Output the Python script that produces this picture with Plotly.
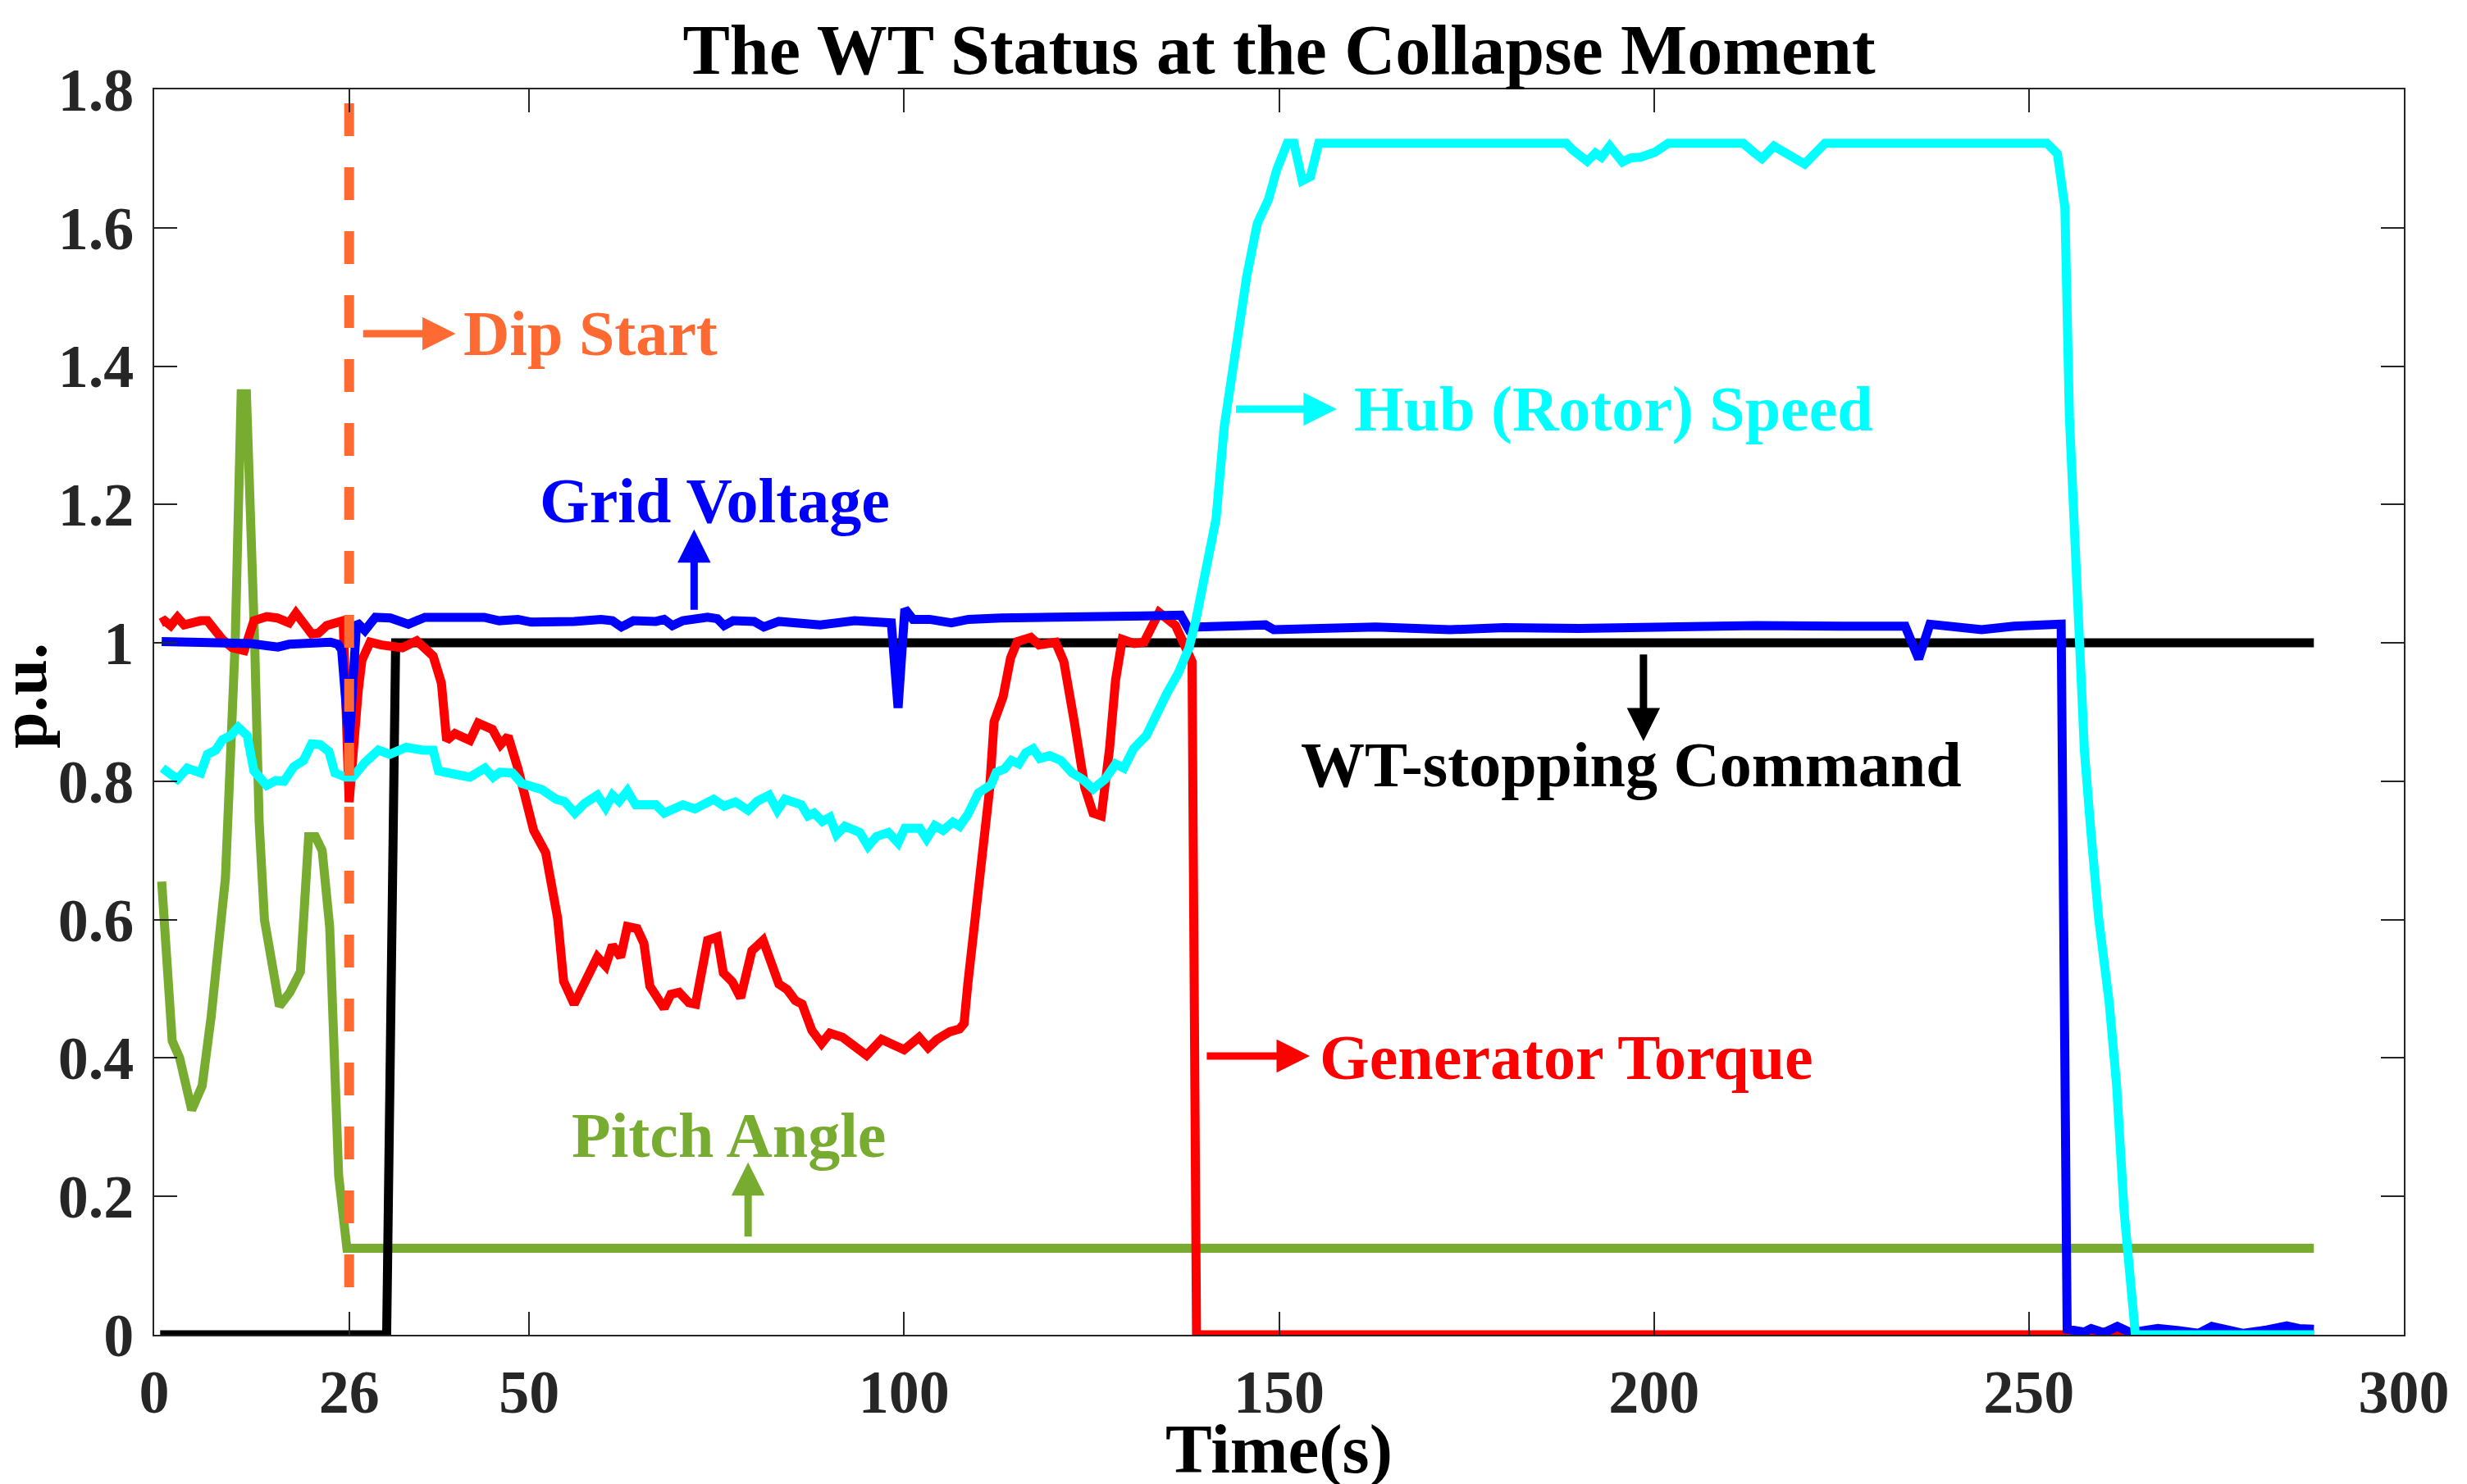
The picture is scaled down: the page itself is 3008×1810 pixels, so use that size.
import plotly.graph_objects as go

# ---------------- data ----------------
pitch_t = [1.0, 2.4, 3.4, 5.0, 6.4, 7.6, 9.5, 10.8, 11.6, 12.3, 13.4, 14.0, 14.7, 15.6, 16.7,
           18.1, 19.5, 20.6, 21.5, 22.4, 23.4, 24.6, 25.7, 288.0]
pitch_v = [0.655, 0.425, 0.40, 0.325, 0.36, 0.46, 0.66, 1.0, 1.36, 1.36, 1.0, 0.74, 0.60, 0.545, 0.475,
           0.495, 0.525, 0.72, 0.72, 0.70, 0.59, 0.23, 0.125, 0.125]

stop_t = [0.8, 31.0, 32.2, 288.0]
stop_v = [0.0, 0.0, 1.0, 1.0]

torque_t = [0.9, 1.4, 2.2, 3.1, 4.0, 5.2, 6.2, 7.1, 8.0, 9.1, 10.4, 12.0, 13.3, 15.0, 16.4, 18.0, 18.9,
            21.0, 21.9, 23.0, 25.2, 26.0, 27.2, 27.7, 28.8, 30.3, 33.1, 35.0, 37.2, 38.3, 39.0, 40.1,
            42.1, 43.2, 45.1, 46.2, 47.2, 48.5, 50.6, 52.2, 53.8, 54.6, 56.0, 59.1, 60.2, 61.1, 62.2,
            63.1, 64.4, 65.3, 66.1, 68.0, 68.9, 70.0, 71.3, 72.2, 73.8, 75.1, 75.9, 77.1, 78.2, 79.7,
            81.2, 82.6, 83.3, 84.4, 85.5, 86.4, 87.7, 89.0, 90.1, 91.8, 93.5, 95.0, 97.0, 100.0, 102.0,
            103.2, 104.4, 106.1, 107.4, 108.0, 108.5, 109.9, 111.4, 112.0, 113.2, 114.2, 115.1, 116.9,
            118.0, 120.2, 121.3, 122.7, 124.1, 125.2, 126.3, 127.4, 128.2, 129.1, 130.7, 132.0, 133.2,
            134.0, 136.2, 137.7, 138.4, 139.0, 288.0]
torque_v = [1.029, 1.032, 1.025, 1.037, 1.026, 1.030, 1.032, 1.032, 1.02, 1.005, 0.993, 0.989, 1.032,
            1.038, 1.036, 1.029, 1.043, 1.013, 1.014, 1.025, 1.032, 0.77, 0.93, 0.975, 1.001, 0.997,
            0.993, 1.003, 0.981, 0.942, 0.859, 0.869, 0.859, 0.884, 0.875, 0.853, 0.865, 0.819, 0.729,
            0.697, 0.602, 0.511, 0.478, 0.546, 0.533, 0.563, 0.546, 0.590, 0.587, 0.566, 0.504, 0.472,
            0.492, 0.495, 0.48, 0.478, 0.570, 0.575, 0.523, 0.510, 0.487, 0.555, 0.570, 0.531, 0.507,
            0.499, 0.483, 0.478, 0.44, 0.421, 0.436, 0.43, 0.418, 0.404, 0.427, 0.412, 0.430, 0.415,
            0.427, 0.438, 0.442, 0.45, 0.507, 0.649, 0.788, 0.886, 0.922, 0.978, 1.002, 1.008, 0.997,
            1.001, 0.973, 0.886, 0.791, 0.754, 0.750, 0.847, 0.946, 1.005, 0.999, 1.001, 1.031, 1.044,
            1.025, 0.99, 0.973, 0.0, 0.0]

voltage_t = [1.0, 3.0, 5.0, 7.0, 9.0, 11.0, 13.0, 15.0, 16.5, 18.0, 20.0, 22.0, 23.5, 24.5, 25.0, 26.0,
             27.0, 28.1, 29.5, 31.5, 33.9, 36.1, 40.0, 44.0, 46.0, 48.5, 50.3, 53.0, 56.0, 59.6, 61.1,
             62.3, 63.9, 66.9, 68.0, 69.1, 70.5, 73.8, 75.1, 76.0, 77.2, 80.0, 81.3, 83.3, 86.0, 88.8,
             93.4, 97.8, 98.3, 99.2, 100.1, 101.2, 103.4, 106.3, 108.6, 112.9, 117.2, 122.0, 127.0,
             132.0, 136.9, 138.0, 139.1, 143.0, 148.2, 149.3, 155.0, 162.9, 172.8, 180.0, 190.0, 200.0,
             213.6, 225.0, 233.5, 235.3, 236.8, 243.7, 248.0, 254.3, 255.1, 257.4, 258.3, 260.0, 261.8,
             263.6, 265.5, 267.2, 270.0, 272.6, 274.4, 276.5, 278.6, 281.7, 284.4, 286.0, 288.0]
voltage_v = [1.002, 1.002, 1.001, 1.002, 1.000, 0.999, 0.999, 0.996, 0.994, 0.998, 0.999, 1.003, 1.001,
             0.998, 0.99, 0.855, 1.03, 1.018, 1.037, 1.036, 1.027, 1.037, 1.036, 1.037, 1.032, 1.034,
             1.030, 1.030, 1.031, 1.034, 1.032, 1.023, 1.032, 1.031, 1.034, 1.025, 1.032, 1.037, 1.035,
             1.025, 1.032, 1.031, 1.023, 1.031, 1.030, 1.026, 1.032, 1.031, 1.029, 0.906, 1.049, 1.034,
             1.034, 1.029, 1.034, 1.036, 1.036, 1.036, 1.038, 1.039, 1.040, 1.019, 1.023, 1.024, 1.026,
             1.019, 1.020, 1.023, 1.019, 1.022, 1.021, 1.023, 1.025, 1.024, 1.024, 0.977, 1.027, 1.019,
             1.024, 1.027, 0.008, 0.004, 0.009, 0.003, 0.012, 0.003, 0.007, 0.009, 0.006, 0.002, 0.012,
             0.006, 0.002, 0.007, 0.013, 0.009, 0.008]

speed_t = [1.1, 3.1, 4.4, 6.2, 7.1, 8.2, 9.1, 10.2, 11.2, 12.4, 13.3, 15.0, 16.2, 17.3, 18.6, 19.9, 21.0,
           22.1, 23.3, 24.1, 25.5, 26.5, 28.1, 29.9, 31.4, 33.6, 35.8, 37.2, 37.9, 40.1, 42.1, 44.1,
           45.2, 46.1, 47.8, 49.0, 51.7, 53.6, 54.7, 56.1, 57.4, 59.1, 60.2, 61.1, 62.0, 63.1, 64.2,
           66.9, 68.0, 70.5, 72.1, 74.6, 76.0, 77.5, 79.2, 80.4, 82.0, 83.1, 84.1, 86.3, 87.2, 88.0,
           89.1, 90.1, 91.0, 92.1, 94.1, 95.2, 96.3, 97.9, 99.2, 100.1, 102.1, 103.0, 104.1, 105.2,
           106.5, 107.4, 108.5, 109.9, 111.6, 112.3, 113.4, 114.3, 115.3, 116.2, 117.2, 118.1, 119.4,
           120.9, 122.4, 123.8, 125.2, 126.8, 128.2, 129.3, 130.6, 132.3, 133.3, 135.1, 136.6, 138.0,
           138.9, 139.9, 140.5, 141.6, 142.7, 144.3, 145.7, 147.1, 148.6, 149.7, 150.6, 151.1, 152.0,
           153.1, 154.2, 154.8, 155.3, 188.3, 189.1, 191.1, 192.2, 193.0, 194.1, 195.8, 196.9, 198.2,
           200.1, 201.9, 211.9, 213.3, 214.4, 216.0, 218.2, 220.1, 222.8, 252.4, 253.8, 254.8, 255.4,
           256.4, 257.4, 258.3, 259.3, 260.7, 261.7, 262.7, 263.5, 264.2, 288.0]
speed_v = [0.819, 0.803, 0.819, 0.812, 0.839, 0.845, 0.860, 0.866, 0.878, 0.866, 0.815, 0.794, 0.801,
           0.800, 0.821, 0.830, 0.854, 0.853, 0.843, 0.812, 0.806, 0.806, 0.827, 0.845, 0.839, 0.849,
           0.845, 0.845, 0.815, 0.812, 0.806, 0.819, 0.806, 0.813, 0.812, 0.797, 0.788, 0.774, 0.771,
           0.754, 0.768, 0.780, 0.762, 0.780, 0.771, 0.786, 0.766, 0.766, 0.754, 0.766, 0.760, 0.774,
           0.764, 0.770, 0.758, 0.771, 0.780, 0.758, 0.774, 0.766, 0.750, 0.754, 0.742, 0.748, 0.723,
           0.735, 0.726, 0.706, 0.720, 0.726, 0.711, 0.732, 0.732, 0.717, 0.736, 0.729, 0.741, 0.735,
           0.752, 0.783, 0.795, 0.813, 0.818, 0.830, 0.825, 0.841, 0.847, 0.833, 0.837, 0.830, 0.812,
           0.803, 0.789, 0.803, 0.825, 0.819, 0.847, 0.866, 0.890, 0.928, 0.957, 0.993, 1.032, 1.084,
           1.123, 1.179, 1.313, 1.431, 1.530, 1.606, 1.641, 1.684, 1.708, 1.722, 1.722, 1.668, 1.674,
           1.708, 1.722, 1.722, 1.713, 1.696, 1.708, 1.702, 1.718, 1.695, 1.701, 1.702, 1.709, 1.722,
           1.722, 1.709, 1.700, 1.718, 1.705, 1.692, 1.722, 1.722, 1.707, 1.629, 1.327, 1.085, 0.844,
           0.723, 0.602, 0.481, 0.360, 0.178, 0.070, 0.0, 0.0]

dip_time = 26
dip_span = [1.78, 0.057]

x_tickvals = [0, 26, 50, 100, 150, 200, 250, 300]
x_ticktext = ["0", "26", "50", "100", "150", "200", "250", "300"]
y_tickvals = [0, 0.2, 0.4, 0.6, 0.8, 1.0, 1.2, 1.4, 1.6, 1.8]
y_ticktext = ["0", "0.2", "0.4", "0.6", "0.8", "1", "1.2", "1.4", "1.6", "1.8"]

# ---------------- figure ----------------
FONT = "Liberation Serif"
AX = "#262626"
C_PITCH, C_STOP, C_TORQUE, C_VOLT, C_SPEED, C_DIP = "#77AC30", "#000000", "#FF0000", "#0000FF", "#00FFFF", "#FF6A33"
LW = 11

fig = go.Figure()
fig.add_trace(go.Scatter(x=pitch_t, y=pitch_v, mode="lines", name="Pitch Angle",
                         line=dict(color=C_PITCH, width=LW)))
fig.add_trace(go.Scatter(x=stop_t, y=stop_v, mode="lines", name="WT-stopping Command",
                         line=dict(color=C_STOP, width=LW)))
fig.add_trace(go.Scatter(x=torque_t, y=torque_v, mode="lines", name="Generator Torque",
                         line=dict(color=C_TORQUE, width=LW)))
fig.add_trace(go.Scatter(x=voltage_t, y=voltage_v, mode="lines", name="Grid Voltage",
                         line=dict(color=C_VOLT, width=LW)))
fig.add_trace(go.Scatter(x=speed_t, y=speed_v, mode="lines", name="Hub (Rotor) Speed",
                         line=dict(color=C_SPEED, width=LW)))
fig.add_trace(go.Scatter(x=[dip_time, dip_time], y=dip_span, mode="lines", name="Dip Start",
                         line=dict(color=C_DIP, width=12, dash="40px,38px")))

ann_font = dict(family=FONT, size=78, weight="bold")


def arrow(x0, y0, x1, y1, color):
    fig.add_annotation(x=x1, y=y1, ax=x0, ay=y0, xref="x", yref="y", axref="x", ayref="y",
                       text="", showarrow=True, arrowhead=2, arrowsize=0.9, arrowwidth=9,
                       arrowcolor=color)


def label(x, y, text, color, xanchor):
    fig.add_annotation(x=x, y=y, xref="x", yref="y", text=text, showarrow=False,
                       xanchor=xanchor, yanchor="middle", font=dict(color=color, **ann_font))


arrow(27.7, 1.447, 40.2, 1.447, C_DIP)
label(41.0, 1.447, "Dip Start", C_DIP, "left")
arrow(72.0, 1.046, 72.0, 1.164, C_VOLT)
label(74.7, 1.206, "Grid Voltage", C_VOLT, "center")
arrow(144.1, 1.338, 157.7, 1.338, C_SPEED)
label(159.8, 1.338, "Hub (Rotor) Speed", C_SPEED, "left")
arrow(198.6, 0.985, 198.6, 0.858, C_STOP)
label(197.0, 0.824, "WT-stopping Command", C_STOP, "center")
arrow(140.2, 0.403, 154.1, 0.403, C_TORQUE)
label(155.2, 0.401, "Generator Torque", C_TORQUE, "left")
arrow(79.2, 0.140, 79.2, 0.249, C_PITCH)
label(76.7, 0.289, "Pitch Angle", C_PITCH, "center")

# axis titles placed as paper-anchored text
fig.add_annotation(x=0.5, y=-0.092, xref="paper", yref="paper", text="Time(s)", showarrow=False,
                   xanchor="center", yanchor="middle",
                   font=dict(family=FONT, size=85, weight="bold", color="black"))
fig.add_annotation(x=-0.058, y=0.5135, xref="paper", yref="paper", text="p.u.", showarrow=False,
                   textangle=-90, xanchor="center", yanchor="middle",
                   font=dict(family=FONT, size=80, weight="bold", color="black"))

axis_common = dict(showgrid=False, zeroline=False, showline=True, linecolor=AX, linewidth=2,
                   mirror="ticks", ticks="inside", ticklen=28, tickwidth=2, tickcolor=AX,
                   automargin=False,
                   tickfont=dict(family=FONT, size=74, weight="bold", color=AX))

fig.update_layout(
    width=3008, height=1810,
    margin=dict(l=180, r=85, t=101, b=190, autoexpand=False),
    paper_bgcolor="white", plot_bgcolor="white",
    showlegend=False,
    title=dict(text="The WT Status at the Collapse Moment", x=0.5, xref="paper", xanchor="center",
               y=1 - 52 / 1810, yref="container", yanchor="middle",
               font=dict(family=FONT, size=86, weight="bold", color="black")),
    xaxis=dict(range=[0, 300], tickvals=x_tickvals, ticktext=x_ticktext, ticklabelstandoff=4,
               **axis_common),
    yaxis=dict(range=[0, 1.8], tickvals=y_tickvals, ticktext=y_ticktext, ticklabelstandoff=8,
               **axis_common),
)

fig.write_html("out.html")
